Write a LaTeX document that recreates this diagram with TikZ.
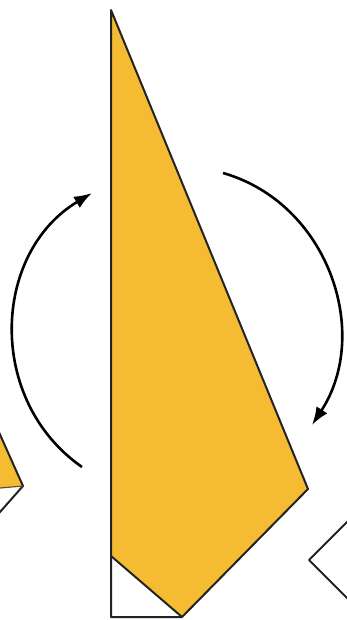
\documentclass[tikz,border=0pt]{standalone}
\usepackage{xcolor}
\usepackage{tikz}
\usetikzlibrary{arrows.meta}

\definecolor{paperyellow}{RGB}{245,187,50}
\definecolor{edgegray}{RGB}{35,35,35}

\begin{document}
\begin{tikzpicture}[x=1pt, y=-1pt, >={Latex[length=18pt,width=13pt]}, line join=round,
		paper/.style={draw=edgegray, line width=2pt},
		turn/.style={->, line width=2.6pt, black}]
		
		% Frame of the picture (pixel units, y down)
		\useasboundingbox (0,0) rectangle (347,620);
		\clip (0,0) rectangle (347,620);
		
		% =========================================================
		% LEFT: previous sheet (only its tip is visible)
		% =========================================================
		\coordinate (Ltip) at (23,486);
		\coordinate (Lup) at (-23,383);
		\coordinate (Ldown) at (-23,538);
		\coordinate (Lfold) at (-23,490);
		
		% Coloured part above the fold
		\fill[paperyellow] (Ltip) -- (Lup) -- (Lfold) -- cycle;
		\draw[paper] (Lup) -- (Ltip) -- (Ldown);
		\draw[draw=edgegray!70!paperyellow, line width=1.2pt] (Ltip) -- (Lfold);
		
		% =========================================================
		% MIDDLE: main sheet
		% =========================================================
		\coordinate (T) at (111,10);
		\coordinate (R) at (308,489);
		\coordinate (B) at (182,617);
		\coordinate (F) at (111,556);
		\coordinate (BL) at (111,617);
		
		% Coloured face
		\fill[paperyellow] (T) -- (R) -- (B) -- (F) -- cycle;
		
		% Outline and fold
		\draw[paper] (T) -- (R) -- (B) -- (BL) -- cycle;
		\draw[paper] (F) -- (B);
		
		% =========================================================
		% RIGHT: next sheet (only its corner is visible)
		% =========================================================
		\coordinate (Rtip) at (309,560);
		\coordinate (Rup) at (359,510);
		\coordinate (Rdown) at (359,610);
		
		\fill[white] (Rup) -- (Rtip) -- (Rdown) -- cycle;
		\draw[paper] (Rup) -- (Rtip) -- (Rdown);
		
		% =========================================================
		% Turning arrows
		% =========================================================
		\coordinate (a1) at (82,467);
		\coordinate (a2) at (92,193);
		\coordinate (b1) at (223,173);
		\coordinate (b2) at (312,425);
		
		% Left arrow, bulging to the left
		\draw[turn] (a1) .. controls (-14,400) and (-8,253) .. (a2);
		% Right arrow, bulging to the right
		\draw[turn] (b1) .. controls (328,203) and (372,333) .. (b2);
		
	\end{tikzpicture}
\end{document}
